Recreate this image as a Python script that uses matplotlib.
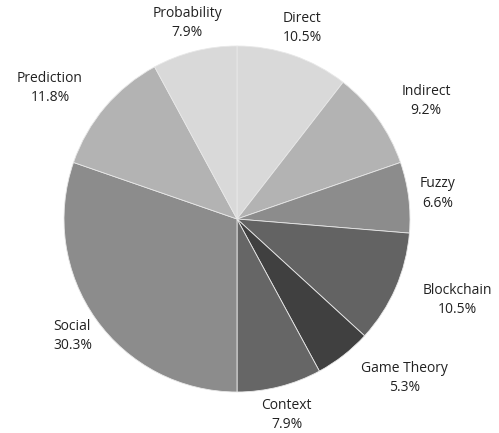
import matplotlib
matplotlib.use("Agg")
import matplotlib.pyplot as plt
import numpy as np

plt.rcParams["font.family"] = ["Open Sans", "DejaVu Sans"]

categories = ["Direct", "Indirect", "Fuzzy", "Blockchain", "Game Theory",
              "Context", "Social", "Prediction", "Probability"]
shares = [10.5, 9.2, 6.6, 10.5, 5.3, 7.9, 30.3, 11.8, 7.9]
colors = ["#d9d9d9", "#b3b3b3", "#8c8c8c", "#636363", "#404040",
          "#666666", "#8c8c8c", "#b3b3b3", "#d9d9d9"]

fig = plt.figure(figsize=(4.99, 4.33), dpi=100)
W, H = 499, 433
cx, cy, r = 237, 219, 173
ax = fig.add_axes([(cx - r) / W, (H - cy - r) / H, 2 * r / W, 2 * r / H])

wedges, _ = ax.pie(shares, colors=colors, startangle=90, counterclock=False,
                   radius=1, wedgeprops=dict(edgecolor="#e8e8e8", linewidth=0.6))
ax.set_xlim(-1, 1)
ax.set_ylim(-1, 1)
ax.set_aspect("equal")
ax.axis("off")

# labels: centred on the mid-angle unless the box would cut into the pie,
# then pushed to the side (left/right aligned on the anchor point)
renderer = fig.canvas.get_renderer()
inv = ax.transData.inverted()
for w, name, s in zip(wedges, categories, shares):
    ang = np.deg2rad((w.theta1 + w.theta2) / 2)
    x, y = 1.168 * np.cos(ang), 1.168 * np.sin(ang)
    t = ax.text(x, y, f"{name}\n{s}%", ha="center", va="center",
                multialignment="center", fontsize=10, color="#222222",
                linespacing=1.4, clip_on=False)
    bb = inv.transform(t.get_window_extent(renderer))
    (x0, y0), (x1, y1) = bb
    nx = min(max(0, x0), x1)
    ny = min(max(0, y0), y1)
    if np.hypot(nx, ny) < 0.995:
        t.set_ha("left" if x > 0 else "right")

fig.savefig("out.png", dpi=100)
